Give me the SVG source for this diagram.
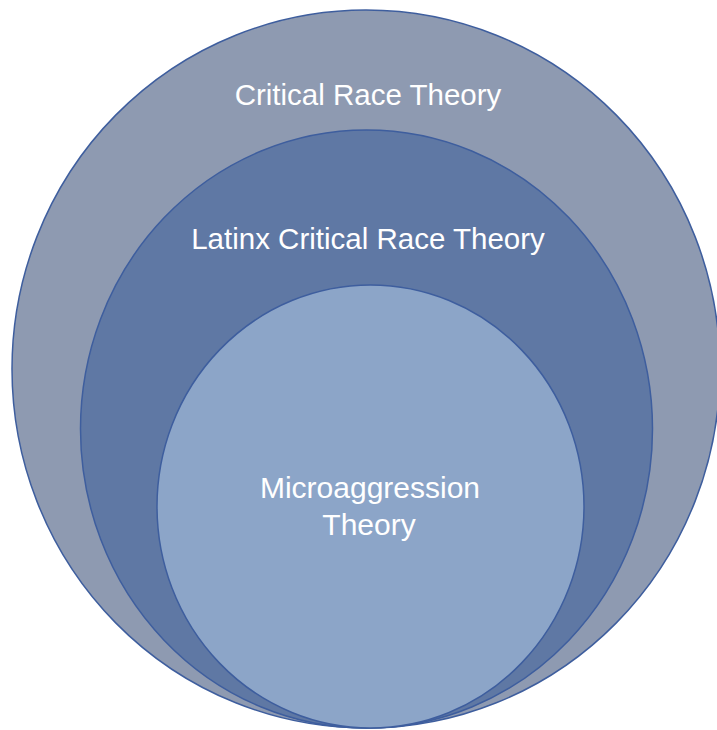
<svg xmlns="http://www.w3.org/2000/svg" width="717" height="730" viewBox="0 0 717 730">
<style>
.c{stroke:#3E5E9E;stroke-width:1.5}
.t{font-family:"Liberation Sans",Arial,sans-serif;font-size:29.5px;fill:#ffffff;text-anchor:middle}
</style>
<rect width="717" height="730" fill="#ffffff"/>
<g id="outer">
<ellipse class="c" cx="366" cy="369" rx="354" ry="359" fill="#8E9AB1"/>
<text class="t" x="368" y="105">Critical Race Theory</text>
</g>
<g id="middle">
<ellipse class="c" cx="366.5" cy="429" rx="286" ry="299" fill="#5F78A4"/>
<text class="t" x="368" y="249">Latinx Critical Race Theory</text>
</g>
<g id="inner">
<ellipse class="c" cx="370.5" cy="506.5" rx="213.5" ry="221.5" fill="#8CA5C8"/>
<text class="t" x="370" y="498" style="font-size:30px">Microaggression</text>
<text class="t" x="369" y="535" style="font-size:30px">Theory</text>
</g>
<g id="connectors"/>
</svg>
